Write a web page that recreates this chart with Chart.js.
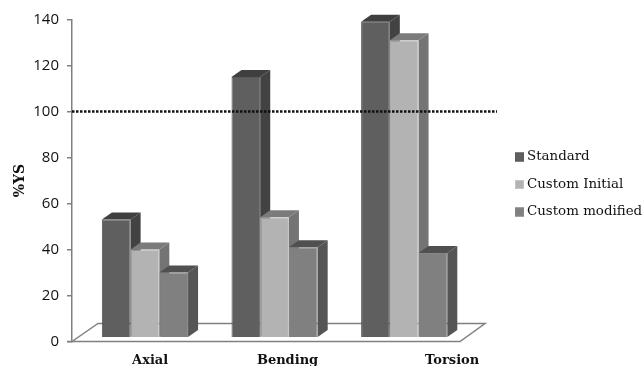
<!DOCTYPE html>
<html>
<head>
<meta charset="utf-8">
<title>%YS by load case</title>
<script src="https://cdn.jsdelivr.net/npm/chart.js@4"></script>
<style>
  html, body { margin: 0; padding: 0; background: #fff; }
  canvas { display: block; }
</style>
</head>
<body>
<canvas id="myChart" width="644" height="366"></canvas>
<script>
const categories = ['Axial', 'Bending', 'Torsion'];
const categorySlots = [1, 2, 3];
const labelSlots = [1.04, 2.1, 3.37];
const seriesNames = ['Standard', 'Custom Initial', 'Custom modified'];
const standard = [53, 115, 139];
const customInitial = [40, 54, 131];
const customModified = [30, 41, 38.5];
const yTicks = [0, 20, 40, 60, 80, 100, 120, 140];
const yieldLimit = 100;
const barFloor = 2;
const xRange = [0.437, 3.716];

const frontColors = ['#5f5f5f', '#b3b3b3', '#808080'];
const edgeColors = ['#595959', '#c4c4c4', '#868686'];
const topColors = ['#3f3f3f', '#7b7b7b', '#505050'];
const sideColors = ['#424242', '#747474', '#555555'];

const serifFont = '"DejaVu Serif", serif';
const depthX = 10;
const depthY = 7;

function toPoints(values) {
  return values.map((v, i) => ({ x: categorySlots[i], y: v }));
}

function fillShape(ctx, color, pts) {
  ctx.fillStyle = color;
  ctx.beginPath();
  pts.forEach((p, i) => (i ? ctx.lineTo(p[0], p[1]) : ctx.moveTo(p[0], p[1])));
  ctx.closePath();
  ctx.fill();
}

// floor of the 3d box, then the top and side faces of the bars.
// faces go first so every front face lands on top of them
const depthPlugin = {
  id: 'depth',
  beforeDatasetsDraw(chart) {
    const { ctx, chartArea, scales } = chart;
    const y0 = scales.y.getPixelForValue(0);
    const left = chartArea.left;
    ctx.save();
    ctx.strokeStyle = '#808080';
    ctx.lineWidth = 1.5;
    ctx.beginPath();
    ctx.moveTo(left - 5, y0);
    ctx.lineTo(left + 388, y0);
    ctx.lineTo(left + 413, y0 - 18);
    ctx.lineTo(left + 26, y0 - 18);
    ctx.lineTo(left, y0);
    ctx.stroke();

    seriesNames.forEach((name, i) => {
      chart.getDatasetMeta(i).data.forEach((bar) => {
        const { x, y, base, width } = bar.getProps(['x', 'y', 'base', 'width'], true);
        const l = x - width / 2;
        const r = x + width / 2;
        fillShape(ctx, sideColors[i], [[r, y], [r + depthX, y - depthY], [r + depthX, base - depthY], [r, base]]);
        fillShape(ctx, topColors[i], [[l, y], [l + depthX, y - depthY], [r + depthX, y - depthY], [r, y]]);
      });
    });
    ctx.restore();
  }
};

// legend with the swatch sitting close to its text
const keyPlugin = {
  id: 'key',
  afterDraw(chart) {
    const ctx = chart.ctx;
    const x = chart.chartArea.right + 18;
    ctx.save();
    ctx.font = '13.4px ' + serifFont;
    ctx.textBaseline = 'middle';
    seriesNames.forEach((name, i) => {
      const y = 157 + i * 27.5;
      ctx.fillStyle = frontColors[i];
      ctx.fillRect(x, y - 4.5, 9, 9);
      ctx.strokeStyle = edgeColors[i];
      ctx.strokeRect(x + 0.5, y - 4, 8, 8);
      ctx.fillStyle = '#111';
      ctx.fillText(name, x + 12, y);
    });
    ctx.restore();
  }
};

function barSet(i, values) {
  return {
    type: 'bar',
    label: seriesNames[i],
    data: toPoints(values),
    base: barFloor,
    backgroundColor: frontColors[i],
    borderColor: edgeColors[i],
    borderWidth: 1,
    categoryPercentage: 0.665,
    barPercentage: 1,
    order: i + 1
  };
}

new Chart(document.getElementById('myChart'), {
  data: {
    datasets: [
      barSet(0, standard),
      barSet(1, customInitial),
      barSet(2, customModified),
      {
        type: 'line',
        label: 'limit',
        data: xRange.map((x) => ({ x: x, y: yieldLimit })),
        borderColor: '#111',
        borderWidth: 2.5,
        borderDash: [2.5, 1.5],
        pointRadius: 0,
        order: 0
      }
    ]
  },
  plugins: [depthPlugin, keyPlugin],
  options: {
    responsive: false,
    animation: false,
    layout: { padding: { top: 19.5, right: 147 } },
    plugins: {
      tooltip: { enabled: false },
      legend: { display: false }
    },
    scales: {
      x: {
        type: 'linear',
        offset: false,
        min: xRange[0],
        max: xRange[1],
        grid: { display: false, offset: false },
        border: { display: false },
        afterBuildTicks(axis) {
          axis.ticks = labelSlots.map((v) => ({ value: v }));
        },
        afterFit(axis) {
          axis.height = 24.5;
        },
        ticks: {
          autoSkip: false,
          maxRotation: 0,
          padding: 3,
          color: '#111',
          font: { family: serifFont, size: 13, weight: 'bold' },
          callback: (v) => categories[labelSlots.indexOf(v)]
        }
      },
      y: {
        min: 0,
        max: 140,
        afterBuildTicks(axis) {
          axis.ticks = yTicks.map((v) => ({ value: v }));
        },
        afterFit(axis) {
          axis.width = 72;
        },
        grid: { drawOnChartArea: false, color: '#808080', tickLength: 5, lineWidth: 1.5 },
        border: { color: '#808080', width: 1.5 },
        title: {
          display: true,
          text: '%YS',
          color: '#111',
          padding: { top: 12, bottom: 0 },
          font: { family: serifFont, size: 14, weight: 'bold' }
        },
        ticks: {
          padding: 8,
          color: '#111',
          font: { family: '"Open Sans", sans-serif', size: 15 }
        }
      }
    }
  }
});
</script>
</body>
</html>
